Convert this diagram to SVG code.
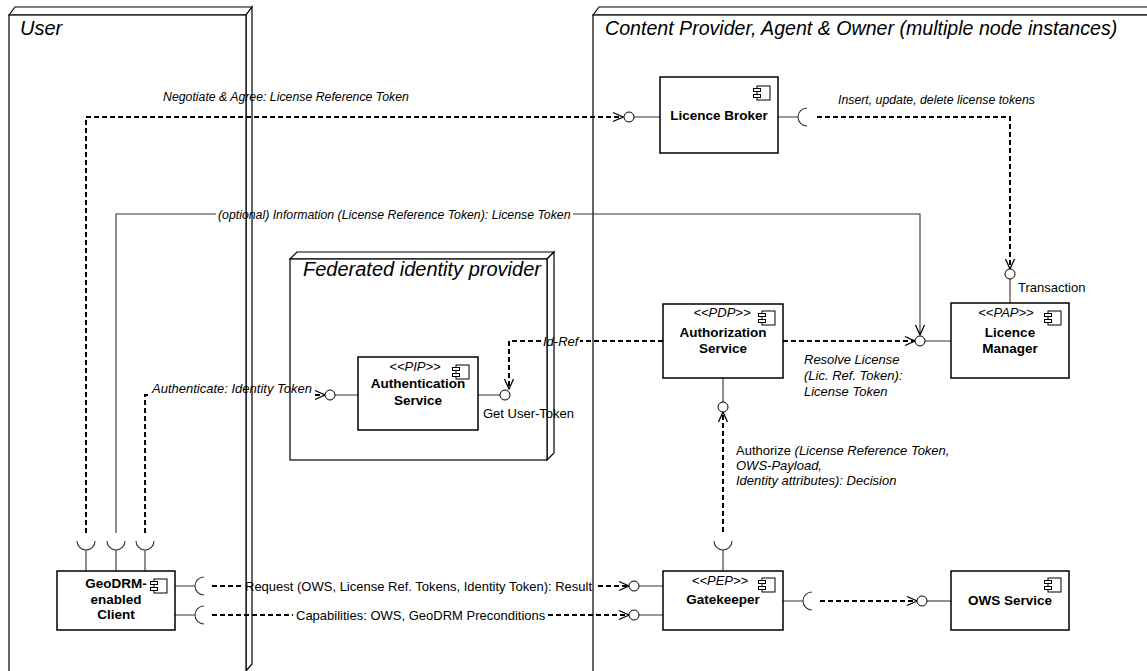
<svg xmlns="http://www.w3.org/2000/svg" xmlns:xlink="http://www.w3.org/1999/xlink" width="1147" height="671" viewBox="0 0 1147 671">
<style>
.nd{fill:#fff;stroke:#000;stroke-width:1.2}
.box{fill:#fff;stroke:#000;stroke-width:1.5}
.ln{fill:none;stroke:#333;stroke-width:1.1}
.dash{fill:none;stroke:#000;stroke-width:2;stroke-dasharray:5 3}
.lol{fill:#fff;stroke:#000;stroke-width:1}
.title{font-family:"Liberation Sans",Arial,sans-serif;font-size:20px;font-style:italic;fill:#000}
.lbl{font-family:"Liberation Sans",Arial,sans-serif;font-size:13px;fill:#000}
.sm{font-size:12.3px}
.it{font-style:italic}
.name{font-family:"Liberation Sans",Arial,sans-serif;font-size:13.5px;font-weight:bold;fill:#000;text-anchor:middle}
.st{font-family:"Liberation Sans",Arial,sans-serif;font-size:13px;font-style:italic;fill:#000;text-anchor:middle}
</style>
<defs>
<marker id="arr" markerUnits="userSpaceOnUse" markerWidth="12" markerHeight="10" refX="10" refY="4.5" orient="auto" overflow="visible">
<path d="M0,0 L10,4.5 L0,9" fill="none" stroke="#000" stroke-width="1.3"/>
</marker>
<g id="icon">
<rect x="4" y="0" width="13" height="14" fill="#fff" stroke="#000" stroke-width="1"/>
<rect x="0.5" y="2.5" width="7" height="3" fill="#fff" stroke="#000" stroke-width="1"/>
<rect x="0.5" y="8.5" width="7" height="3" fill="#fff" stroke="#000" stroke-width="1"/>
</g>
</defs>
<rect width="1147" height="671" fill="#fff"/>

<g id="node-user">
<path class="nd" d="M9,15 L15,7 L252,7 L246,15 Z"/>
<path class="nd" d="M246,15 L252,7 L252,664 L246,671 Z"/>
<rect class="nd" x="9" y="15" width="237" height="660"/>
<text class="title" x="20" y="35">User</text>
</g>

<g id="node-provider">
<path class="nd" d="M593,15 L599,7 L1160,7 L1160,15 Z"/>
<rect class="nd" x="593" y="15" width="580" height="660"/>
<text class="title" x="605" y="35" style="font-size:19.6px">Content Provider, Agent &amp; Owner (multiple node instances)</text>
</g>

<g id="node-federated">
<path class="nd" d="M290,259 L297,252 L554,252 L547,259 Z"/>
<path class="nd" d="M547,259 L554,252 L554,453 L547,460 Z"/>
<rect class="nd" x="290" y="259" width="257" height="201"/>
<text class="title" x="303" y="276">Federated identity provider</text>
</g>

<g id="connectors">
<!-- Negotiate & Agree -->
<path class="dash" d="M86,533 L86,117 L623,117" marker-end="url(#arr)"/>
<text class="lbl sm it" x="163" y="101">Negotiate &amp; Agree: License Reference Token</text>
<!-- Optional information -->
<path class="ln" d="M116,533 L116,214 L216,214"/>
<path class="ln" d="M573,214 L920,214 L920,335" marker-end="url(#arr)"/>
<text class="lbl sm it" x="218" y="218.5">(optional) Information (License Reference Token): License Token</text>
<!-- Authenticate -->
<path class="dash" d="M145,533 L145,395 L151,395"/>
<path class="dash" d="M315,395 L325,395" marker-end="url(#arr)"/>
<text class="lbl it" x="152" y="393">Authenticate: Identity Token</text>
<!-- Id-Ref -->
<path class="dash" d="M663,341 L580,341"/>
<path class="dash" d="M541,341 L509,341 L509,389" marker-end="url(#arr)"/>
<text class="lbl it" x="543" y="345.5">Id-Ref</text>
<!-- Resolve License -->
<path class="dash" d="M783,341 L915,341" marker-end="url(#arr)"/>
<text class="lbl it" x="804" y="364">Resolve License</text>
<text class="lbl it" x="804" y="380">(Lic. Ref. Token):</text>
<text class="lbl it" x="804" y="396">License Token</text>
<!-- Broker - Manager -->
<path class="dash" d="M817,117 L1010,117 L1010,269" marker-end="url(#arr)"/>
<text class="lbl sm it" x="838" y="104">Insert, update, delete license tokens</text>
<!-- Authorize -->
<path class="dash" d="M723,532 L723,412" marker-end="url(#arr)"/>
<text class="lbl" x="736" y="455">Authorize <tspan class="it">(License Reference Token,</tspan></text>
<text class="lbl it" x="736" y="470">OWS-Payload,</text>
<text class="lbl it" x="736" y="485">Identity attributes): Decision</text>
<!-- Request -->
<path class="dash" d="M212,586 L243,586"/>
<path class="dash" d="M598,586 L629,586" marker-end="url(#arr)"/>
<text class="lbl" x="245" y="590.5">Request (OWS, License Ref. Tokens, Identity Token): Result</text>
<!-- Capabilities -->
<path class="dash" d="M212,615 L293,615"/>
<path class="dash" d="M548,615 L629,615" marker-end="url(#arr)"/>
<text class="lbl" x="296" y="619.5">Capabilities: OWS, GeoDRM Preconditions</text>
<!-- Gatekeeper - OWS -->
<path class="dash" d="M820,601 L917,601" marker-end="url(#arr)"/>
</g>

<g id="licence-broker">
<path class="ln" d="M634,117 L660,117 M778,117 L798,117"/>
<circle class="lol" cx="629" cy="117" r="5"/>
<path class="ln" d="M807,108 A9,9 0 0 0 807,126"/>
<rect class="box" x="660" y="77" width="118" height="76"/>
<use xlink:href="#icon" x="753" y="86"/>
<text class="name" x="719" y="120">Licence Broker</text>
</g>

<g id="licence-manager">
<path class="ln" d="M1010,279 L1010,303 M925,341 L951,341"/>
<circle class="lol" cx="1010" cy="274" r="5"/>
<circle class="lol" cx="920" cy="341" r="5"/>
<text class="lbl" x="1018" y="292">Transaction</text>
<rect class="box" x="951" y="303" width="118" height="75"/>
<use xlink:href="#icon" x="1044" y="311"/>
<text class="st" x="1006" y="317">&lt;&lt;PAP&gt;&gt;</text>
<text class="name" x="1010" y="337">Licence</text>
<text class="name" x="1010" y="353">Manager</text>
</g>

<g id="authorization-service">
<path class="ln" d="M723,378 L723,402"/>
<circle class="lol" cx="723" cy="407" r="5"/>
<rect class="box" x="663" y="304" width="120" height="74"/>
<use xlink:href="#icon" x="758" y="311"/>
<text class="st" x="722" y="317">&lt;&lt;PDP&gt;&gt;</text>
<text class="name" x="723" y="337">Authorization</text>
<text class="name" x="723" y="353">Service</text>
</g>

<g id="authentication-service">
<path class="ln" d="M335,395 L358,395 M478,395 L500,395"/>
<circle class="lol" cx="330" cy="395" r="5"/>
<circle class="lol" cx="505" cy="395" r="5"/>
<text class="lbl" x="483" y="418">Get User-Token</text>
<rect class="box" x="358" y="357" width="120" height="73"/>
<use xlink:href="#icon" x="452" y="365"/>
<text class="st" x="415" y="371">&lt;&lt;PIP&gt;&gt;</text>
<text class="name" x="418" y="388">Authentication</text>
<text class="name" x="418" y="405">Service</text>
</g>

<g id="geodrm-client">
<path class="ln" d="M86,550 L86,571 M116,550 L116,571 M145,550 L145,571"/>
<path class="ln" d="M77,541 A9,9 0 0 0 95,541 M107,541 A9,9 0 0 0 125,541 M136,541 A9,9 0 0 0 154,541"/>
<path class="ln" d="M175,586 L195,586 M175,615 L195,615"/>
<path class="ln" d="M204,577 A9,9 0 0 0 204,595 M204,606 A9,9 0 0 0 204,624"/>
<rect class="box" x="57" y="571" width="118" height="59"/>
<use xlink:href="#icon" x="150" y="579"/>
<text class="name" x="116" y="588">GeoDRM-</text>
<text class="name" x="116" y="604">enabled</text>
<text class="name" x="116" y="619">Client</text>
</g>

<g id="gatekeeper">
<path class="ln" d="M639,586 L663,586 M639,615 L663,615 M723,550 L723,571 M783,601 L803,601"/>
<path class="ln" d="M714,541 A9,9 0 0 0 732,541"/>
<path class="ln" d="M812,592 A9,9 0 0 0 812,610"/>
<circle class="lol" cx="634" cy="586" r="5"/>
<circle class="lol" cx="634" cy="615" r="5"/>
<rect class="box" x="663" y="571" width="120" height="59"/>
<use xlink:href="#icon" x="758" y="578"/>
<text class="st" x="720" y="585">&lt;&lt;PEP&gt;&gt;</text>
<text class="name" x="723" y="604">Gatekeeper</text>
</g>

<g id="ows-service">
<path class="ln" d="M927,601 L951,601"/>
<circle class="lol" cx="922" cy="601" r="5"/>
<rect class="box" x="951" y="571" width="118" height="59"/>
<use xlink:href="#icon" x="1044" y="578"/>
<text class="name" x="1010" y="605">OWS Service</text>
</g>
</svg>
